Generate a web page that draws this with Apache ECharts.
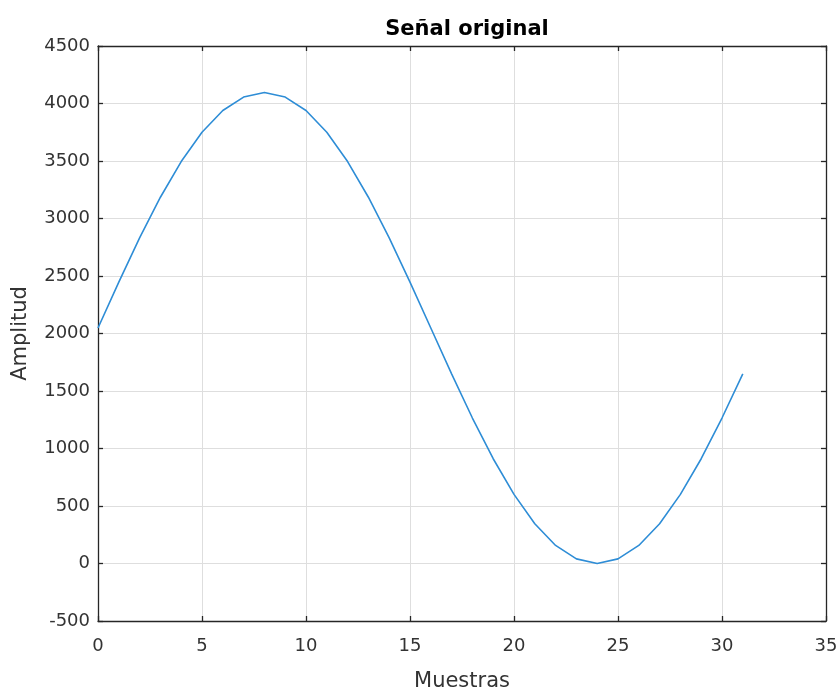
<!DOCTYPE html>
<html>
<head>
<meta charset="utf-8">
<script src="https://cdn.jsdelivr.net/npm/echarts@6/dist/echarts.min.js"></script>
<style>
  html, body { margin: 0; padding: 0; background: #fff; }
  #chart { width: 837px; height: 691px; }
</style>
</head>
<body>
<div id="chart"></div>
<script>
  // muestras (eje x)
  const muestras = [0, 1, 2, 3, 4, 5, 6, 7, 8, 9, 10, 11, 12, 13, 14, 15,
    16, 17, 18, 19, 20, 21, 22, 23, 24, 25, 26, 27, 28, 29, 30, 31]
  // amplitud
  const amplitud = [2048, 2447, 2831, 3185, 3495, 3750, 3939, 4056, 4095, 4056, 3939, 3750, 3495, 3185, 2831, 2447,
    2048, 1649, 1265, 911, 601, 346, 157, 40, 0, 40, 157, 346, 601, 911, 1265, 1649]

  const chart = echarts.init(document.getElementById('chart'))
  const textColor = '#333333'
  const font = 'DejaVu Sans'
  const boxLine = { show: true, onZero: false, lineStyle: { color: '#262626', width: 1.3 } }
  const gridLine = { show: true, lineStyle: { color: '#dedede', width: 1 } }
  const tick = { show: true, inside: true, length: 5, lineStyle: { color: '#262626', width: 1.3 } }
  const plain = v => String(v)

  const option = {
    animation: false,
    title: {
      text: 'Señal original',
      left: 462,
      textAlign: 'center',
      top: 14,
      textStyle: { fontFamily: font, fontSize: 21, fontWeight: 'bold', color: '#000' }
    },
    grid: { left: 98, right: 11, top: 46, bottom: 70, outerBoundsMode: 'none', containLabel: false },
    xAxis: [{
      type: 'value',
      min: 0,
      max: 35,
      interval: 5,
      name: 'Muestras',
      nameLocation: 'center',
      nameGap: 50,
      nameTextStyle: { fontFamily: font, fontSize: 21, color: textColor },
      axisLine: boxLine,
      axisTick: tick,
      axisLabel: { fontFamily: font, fontSize: 18, color: textColor, margin: 16, formatter: plain },
      splitLine: gridLine
    }, {
      type: 'value',
      position: 'top',
      min: 0,
      max: 35,
      interval: 5,
      axisLine: boxLine,
      axisTick: tick,
      axisLabel: { show: false },
      splitLine: { show: false }
    }],
    yAxis: [{
      type: 'value',
      min: -500,
      max: 4500,
      interval: 500,
      name: 'Amplitud',
      nameLocation: 'center',
      nameGap: 67,
      nameTextStyle: { fontFamily: font, fontSize: 21, color: textColor },
      axisLine: boxLine,
      axisTick: tick,
      axisLabel: { fontFamily: font, fontSize: 18, color: textColor, margin: 8, formatter: plain },
      splitLine: gridLine
    }, {
      type: 'value',
      position: 'right',
      min: -500,
      max: 4500,
      interval: 500,
      axisLine: boxLine,
      axisTick: tick,
      axisLabel: { show: false },
      splitLine: { show: false }
    }],
    series: [{
      type: 'line',
      data: muestras.map((m, i) => [m, amplitud[i]]),
      showSymbol: false,
      lineStyle: { color: '#2e8dd6', width: 1.6 },
      itemStyle: { color: '#2e8dd6' }
    }]
  }
  chart.setOption(option)
</script>
</body>
</html>
